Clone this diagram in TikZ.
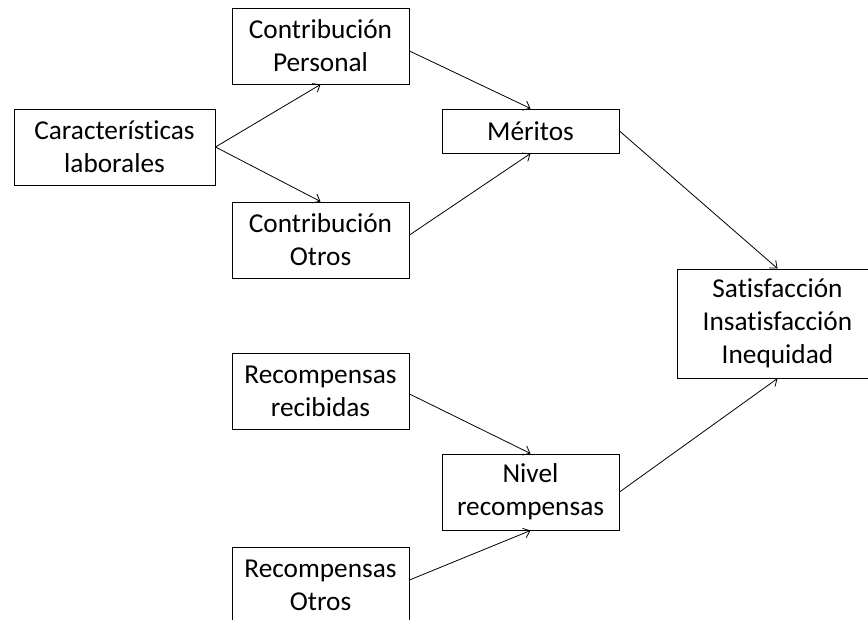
\documentclass[tikz,border=0pt]{standalone}
\usepackage{fontspec}
\setmainfont{Carlito}[Ligatures=NoCommon]
\usetikzlibrary{arrows.meta}
\begin{document}
\begin{tikzpicture}[x=1pt,y=-1pt,
  box/.style={draw, line width=1pt, inner sep=0pt, align=center,
    font=\fontsize{27.3}{33}\selectfont},
  wide/.style={box, minimum width=201pt, minimum height=76pt},
  std/.style={box, minimum width=177pt, minimum height=76pt},
  link/.style={line width=0.8pt, -{Straight Barb[length=6pt,width=10pt,line width=0.8pt]}}]
\useasboundingbox (0,0) rectangle (868,619);
\begin{scope}
\clip (0,0) rectangle (868,619);
% input and intermediate boxes
\node[wide] (car) at (114.5,147) {Características\\laborales};
\node[std] (cp) at (320.5,46) {Contribución\\Personal};
\node[std] (co) at (320.5,240) {Contribución\\Otros};
\node[box, minimum width=177pt, minimum height=44pt] (mer) at (530.5,131) {Méritos};
\node[std] (rr) at (320.5,391) {Recompensas\\recibidas};
\node[std] (niv) at (530.5,492) {Nivel\\recompensas};
\node[std] (ro) at (320.5,585) {Recompensas\\Otros};
% outcome box
\node[box, minimum width=201pt, minimum height=109pt] (sat) at (777.5,323.5) {Satisfacción\\Insatisfacción\\Inequidad};
% connectors
\draw[link] (car.east) -- (cp.south);
\draw[link] (car.east) -- (co.north);
\draw[link] ([yshift=-5pt]cp.east) -- (mer.north);
\draw[link] ([yshift=5pt]co.east) -- (mer.south);
\draw[link] (mer.east) -- (sat.north);
\draw[link] ([yshift=-3pt]rr.east) -- (niv.north);
\draw[link] ([yshift=5pt]ro.east) -- (niv.south);
\draw[link] (niv.east) -- (sat.south);
\end{scope}
\end{tikzpicture}
\end{document}
